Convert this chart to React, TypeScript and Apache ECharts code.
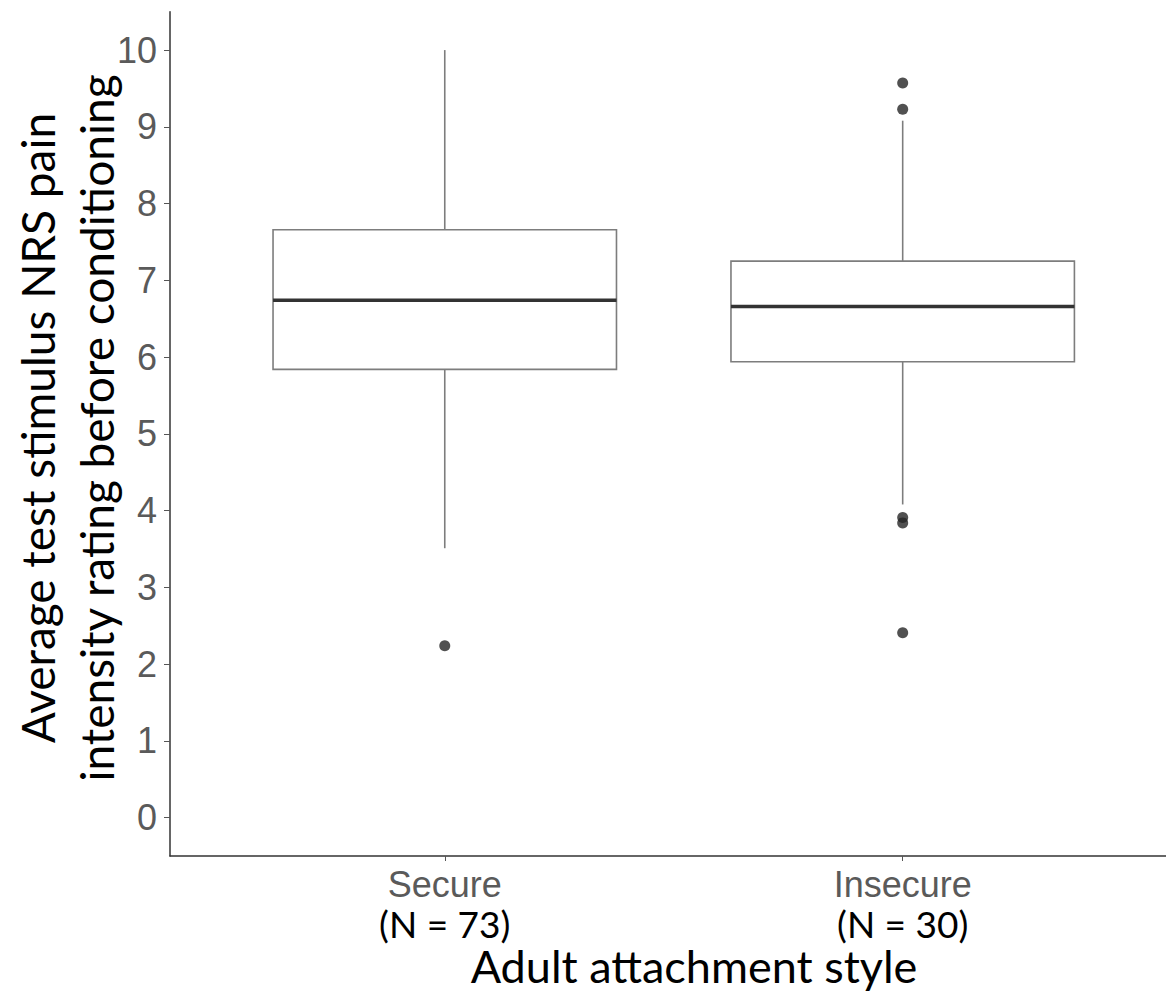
import React, { useEffect, useRef } from "react";
import * as echarts from "echarts";

const categories = ["Secure", "Insecure"];
const nCounts = [73, 30];
const whiskerLow = [3.51, 4.08];
const q1 = [5.84, 5.94];
const median = [6.74, 6.66];
const q3 = [7.66, 7.25];
const whiskerHigh = [10.0, 9.08];
const outliersSecure = [2.24];
const outliersInsecure = [9.57, 9.23, 3.91, 3.84, 2.41];
const yTicks = [0, 1, 2, 3, 4, 5, 6, 7, 8, 9, 10];
const xTicks = [1, 2];
const yTitleLines = ["Average test stimulus NRS pain", "intensity rating before conditioning"];
const xTitle = "Adult attachment style";

export default function App() {
  const ref = useRef<HTMLDivElement>(null);
  useEffect(() => {
    if (!ref.current) return;
    const chart = echarts.init(ref.current, null, { renderer: "svg" });
    const boxData = categories.map((_, i) => [i + 1, whiskerLow[i], q1[i], median[i], q3[i], whiskerHigh[i]]);
    const outlierData = [
      ...outliersSecure.map((v) => [1, v]),
      ...outliersInsecure.map((v) => [2, v]),
    ];
    const boxWidth = 0.75;
    const gray = "#7d7d7d";
    chart.setOption({
      animation: false,
      backgroundColor: "#ffffff",
      grid: { left: 170, top: 11.7, right: 0, height: 844.3 },
      xAxis: {
        type: "value",
        min: 0.4,
        max: 2.575,
        splitLine: { show: false },
        axisLine: { show: true, onZero: false, lineStyle: { color: "#333333", width: 1.5 } },
        axisTick: { show: true, customValues: xTicks, length: 5, lineStyle: { color: "#555555", width: 1 } },
        axisLabel: {
          customValues: xTicks,
          margin: 9,
          formatter: (v: number) => {
            const i = Math.round(v) - 1;
            return `{cat|${categories[i]}}\n{n|(N = ${nCounts[i]})}`;
          },
          rich: {
            cat: { fontFamily: "Liberation Sans, Arial, sans-serif", fontSize: 36, color: "#5a5a5a", lineHeight: 38 },
            n: { fontFamily: "Lato, sans-serif", fontSize: 37, color: "#000000", lineHeight: 40 },
          },
        },
      },
      yAxis: {
        type: "value",
        min: -0.5,
        max: 10.5,
        splitLine: { show: false },
        axisLine: { show: true, onZero: false, lineStyle: { color: "#333333", width: 1.5 } },
        axisTick: { show: true, customValues: yTicks, length: 6, lineStyle: { color: "#555555", width: 1 } },
        axisLabel: {
          customValues: yTicks,
          margin: 13,
          fontFamily: "Liberation Sans, Arial, sans-serif",
          fontSize: 36,
          color: "#5a5a5a",
        },
      },
      graphic: [
        {
          type: "text",
          x: 67,
          y: 428,
          rotation: Math.PI / 2,
          style: {
            text: yTitleLines.join("\n"),
            fontFamily: "Lato, sans-serif",
            fontSize: 46,
            lineHeight: 59,
            fill: "#000000",
            align: "center",
            verticalAlign: "middle",
          },
        },
        {
          type: "text",
          x: 694,
          y: 988,
          style: {
            text: xTitle,
            fontFamily: "Lato, sans-serif",
            fontSize: 45,
            lineHeight: 44,
            fill: "#000000",
            align: "center",
            verticalAlign: "bottom",
          },
        },
      ],
      series: [
        {
          type: "custom",
          data: boxData,
          encode: { x: 0, y: [1, 2, 3, 4, 5] },
          renderItem: (params: any, api: any) => {
            const x = api.value(0);
            const pLo = api.coord([x, api.value(1)]);
            const pQ1 = api.coord([x, api.value(2)]);
            const pMed = api.coord([x, api.value(3)]);
            const pQ3 = api.coord([x, api.value(4)]);
            const pHi = api.coord([x, api.value(5)]);
            const halfW = api.size([boxWidth, 0])[0] / 2;
            const cx = pMed[0];
            return {
              type: "group",
              children: [
                { type: "line", shape: { x1: cx, y1: pHi[1], x2: cx, y2: pQ3[1] }, style: { stroke: gray, lineWidth: 1.6 } },
                { type: "line", shape: { x1: cx, y1: pQ1[1], x2: cx, y2: pLo[1] }, style: { stroke: gray, lineWidth: 1.6 } },
                {
                  type: "rect",
                  shape: { x: cx - halfW, y: pQ3[1], width: halfW * 2, height: pQ1[1] - pQ3[1] },
                  style: { fill: "#ffffff", stroke: gray, lineWidth: 1.6 },
                },
                {
                  type: "line",
                  shape: { x1: cx - halfW, y1: pMed[1], x2: cx + halfW, y2: pMed[1] },
                  style: { stroke: "#333333", lineWidth: 3.5 },
                },
              ],
            };
          },
        },
        {
          type: "scatter",
          data: outlierData,
          symbol: "circle",
          symbolSize: 11,
          itemStyle: { color: "#262626" },
        },
      ],
    });
    return () => chart.dispose();
  }, []);
  return <div ref={ref} style={{ position: "absolute", left: 0, top: 0, width: 1166, height: 994 }} />;
}
